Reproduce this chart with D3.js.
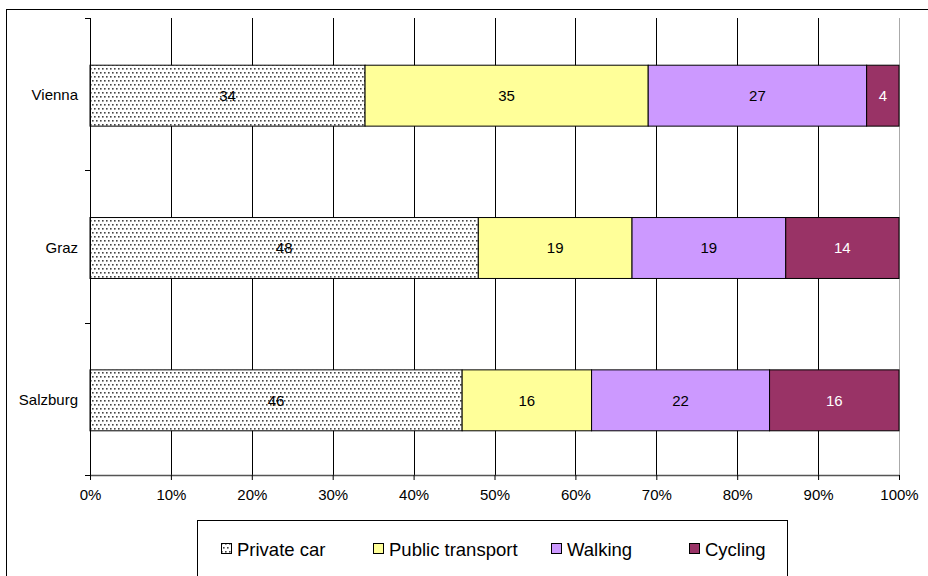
<!DOCTYPE html>
<html>
<head>
<meta charset="utf-8">
<script src="https://cdn.jsdelivr.net/npm/d3@7"></script>
<style>
  body { margin: 0; background: #fff; }
  text { font-family: "Liberation Sans", Arial, sans-serif; }
</style>
</head>
<body>
<svg width="928" height="576"></svg>
<script>
const svg = d3.select("svg");

const width = 928;
const height = 576;

// data
const cities = ["Vienna", "Graz", "Salzburg"];
const modes = ["Private car", "Public transport", "Walking", "Cycling"];
const privateCar = [34, 48, 46];
const publicTransport = [35, 19, 16];
const walking = [27, 19, 22];
const cycling = [4, 14, 16];
const xTicks = [0, 10, 20, 30, 40, 50, 60, 70, 80, 90, 100];

const colors = ["url(#dots)", "#FFFF99", "#CC99FF", "#993366"];
const labelColors = ["#000", "#000", "#000", "#fff"];

const plot = { left: 90, right: 899, top: 18, bottom: 475 };

// outer frame
svg.append("rect")
    .attr("x", 6.5).attr("y", 9.5)
    .attr("width", width).attr("height", height)
    .attr("fill", "#fff")
    .attr("stroke", "#000")
    .attr("stroke-width", 1);

// dotted fill for private car
const defs = svg.append("defs");
const pat = defs.append("pattern")
    .attr("id", "dots")
    .attr("patternUnits", "userSpaceOnUse")
    .attr("width", 4).attr("height", 8);
pat.append("rect").attr("width", 4).attr("height", 8).attr("fill", "#fff");
pat.append("rect").attr("x", 0).attr("y", 0).attr("width", 1.6).attr("height", 1.6).attr("fill", "#444");
pat.append("rect").attr("x", 2).attr("y", 4).attr("width", 1.6).attr("height", 1.6).attr("fill", "#444");

const x = d3.scaleLinear().domain([0, 100]).range([plot.left, plot.right]);
// bars sit a touch below band centre in the original
const y = d3.scaleBand().domain(cities).range([plot.top + 1.5, plot.bottom + 1.5]).paddingInner(0.6).paddingOuter(0.3);

// vertical gridlines
svg.append("g")
    .selectAll("line")
    .data(xTicks.slice(1))
    .enter().append("line")
    .attr("x1", d => Math.round(x(d)) + 0.5)
    .attr("x2", d => Math.round(x(d)) + 0.5)
    .attr("y1", plot.top)
    .attr("y2", plot.bottom)
    .attr("stroke", d => d === 100 ? "#aaa" : "#000")
    .attr("stroke-width", 1);

// stack
const table = cities.map((c, i) => ({
    city: c,
    "Private car": privateCar[i],
    "Public transport": publicTransport[i],
    "Walking": walking[i],
    "Cycling": cycling[i]
}));
const series = d3.stack().keys(modes)(table);

const groups = svg.append("g")
    .selectAll("g")
    .data(series)
    .enter().append("g");

groups.selectAll("rect")
    .data(d => d)
    .enter().append("rect")
    .attr("x", d => x(d[0]))
    .attr("y", d => y(d.data.city))
    .attr("width", d => x(d[1]) - x(d[0]))
    .attr("height", y.bandwidth())
    .attr("fill", function() { return colors[modes.indexOf(d3.select(this.parentNode).datum().key)]; })
    .attr("stroke", "#000")
    .attr("stroke-width", 1);

groups.each(function(s, si) {
    d3.select(this).selectAll("text")
        .data(s)
        .enter().append("text")
        .attr("x", d => (x(d[0]) + x(d[1])) / 2)
        .attr("y", d => y(d.data.city) + y.bandwidth() / 2)
        .attr("dy", "0.36em")
        .attr("text-anchor", "middle")
        .attr("font-size", 15)
        .attr("fill", labelColors[si])
        .text(d => d.data[s.key]);
});

// x axis
const xAxis = svg.append("g")
    .attr("transform", `translate(0,${plot.bottom})`)
    .call(d3.axisBottom(x).tickValues(xTicks).tickFormat(d => d + "%").tickSize(5).tickSizeOuter(0));
xAxis.select(".domain").attr("stroke", "#555").attr("stroke-width", 1.5);
xAxis.selectAll(".tick line").attr("stroke", "#000");
xAxis.selectAll("text").attr("font-size", 15).attr("fill", "#000").attr("dy", "1.15em")
    .attr("font-family", "Liberation Sans, Arial, sans-serif");

// y axis
const yAxis = svg.append("g")
    .attr("transform", `translate(${plot.left},0)`)
    .call(d3.axisLeft(y).tickSize(0).tickPadding(12));
yAxis.select(".domain").remove();
yAxis.selectAll("text").attr("font-size", 15).attr("fill", "#000")
    .attr("font-family", "Liberation Sans, Arial, sans-serif");
svg.append("line")
    .attr("x1", plot.left + 0.5).attr("x2", plot.left + 0.5)
    .attr("y1", plot.top).attr("y2", plot.bottom)
    .attr("stroke", "#000");
// category separator ticks
const step = (plot.bottom - plot.top) / cities.length;
svg.append("g")
    .selectAll("line")
    .data(d3.range(cities.length + 1))
    .enter().append("line")
    .attr("x1", plot.left - 5).attr("x2", plot.left)
    .attr("y1", d => Math.round(plot.top + d * step) + 0.5)
    .attr("y2", d => Math.round(plot.top + d * step) + 0.5)
    .attr("stroke", "#000");

// legend
svg.append("rect")
    .attr("x", 197.5).attr("y", 520.5)
    .attr("width", 590).attr("height", 80)
    .attr("fill", "#fff")
    .attr("stroke", "#000");

const legendX = [221, 373, 551, 689];
const legend = svg.append("g")
    .selectAll("g")
    .data(modes)
    .enter().append("g")
    .attr("transform", (d, i) => `translate(${legendX[i]},543)`);
legend.append("rect")
    .attr("x", 0.5).attr("y", 0.5)
    .attr("width", 10).attr("height", 10)
    .attr("fill", (d, i) => colors[i])
    .attr("stroke", "#000");
legend.append("text")
    .attr("x", 16)
    .attr("y", 6)
    .attr("dy", "0.36em")
    .attr("font-size", 18.5)
    .text(d => d);
</script>
</body>
</html>
